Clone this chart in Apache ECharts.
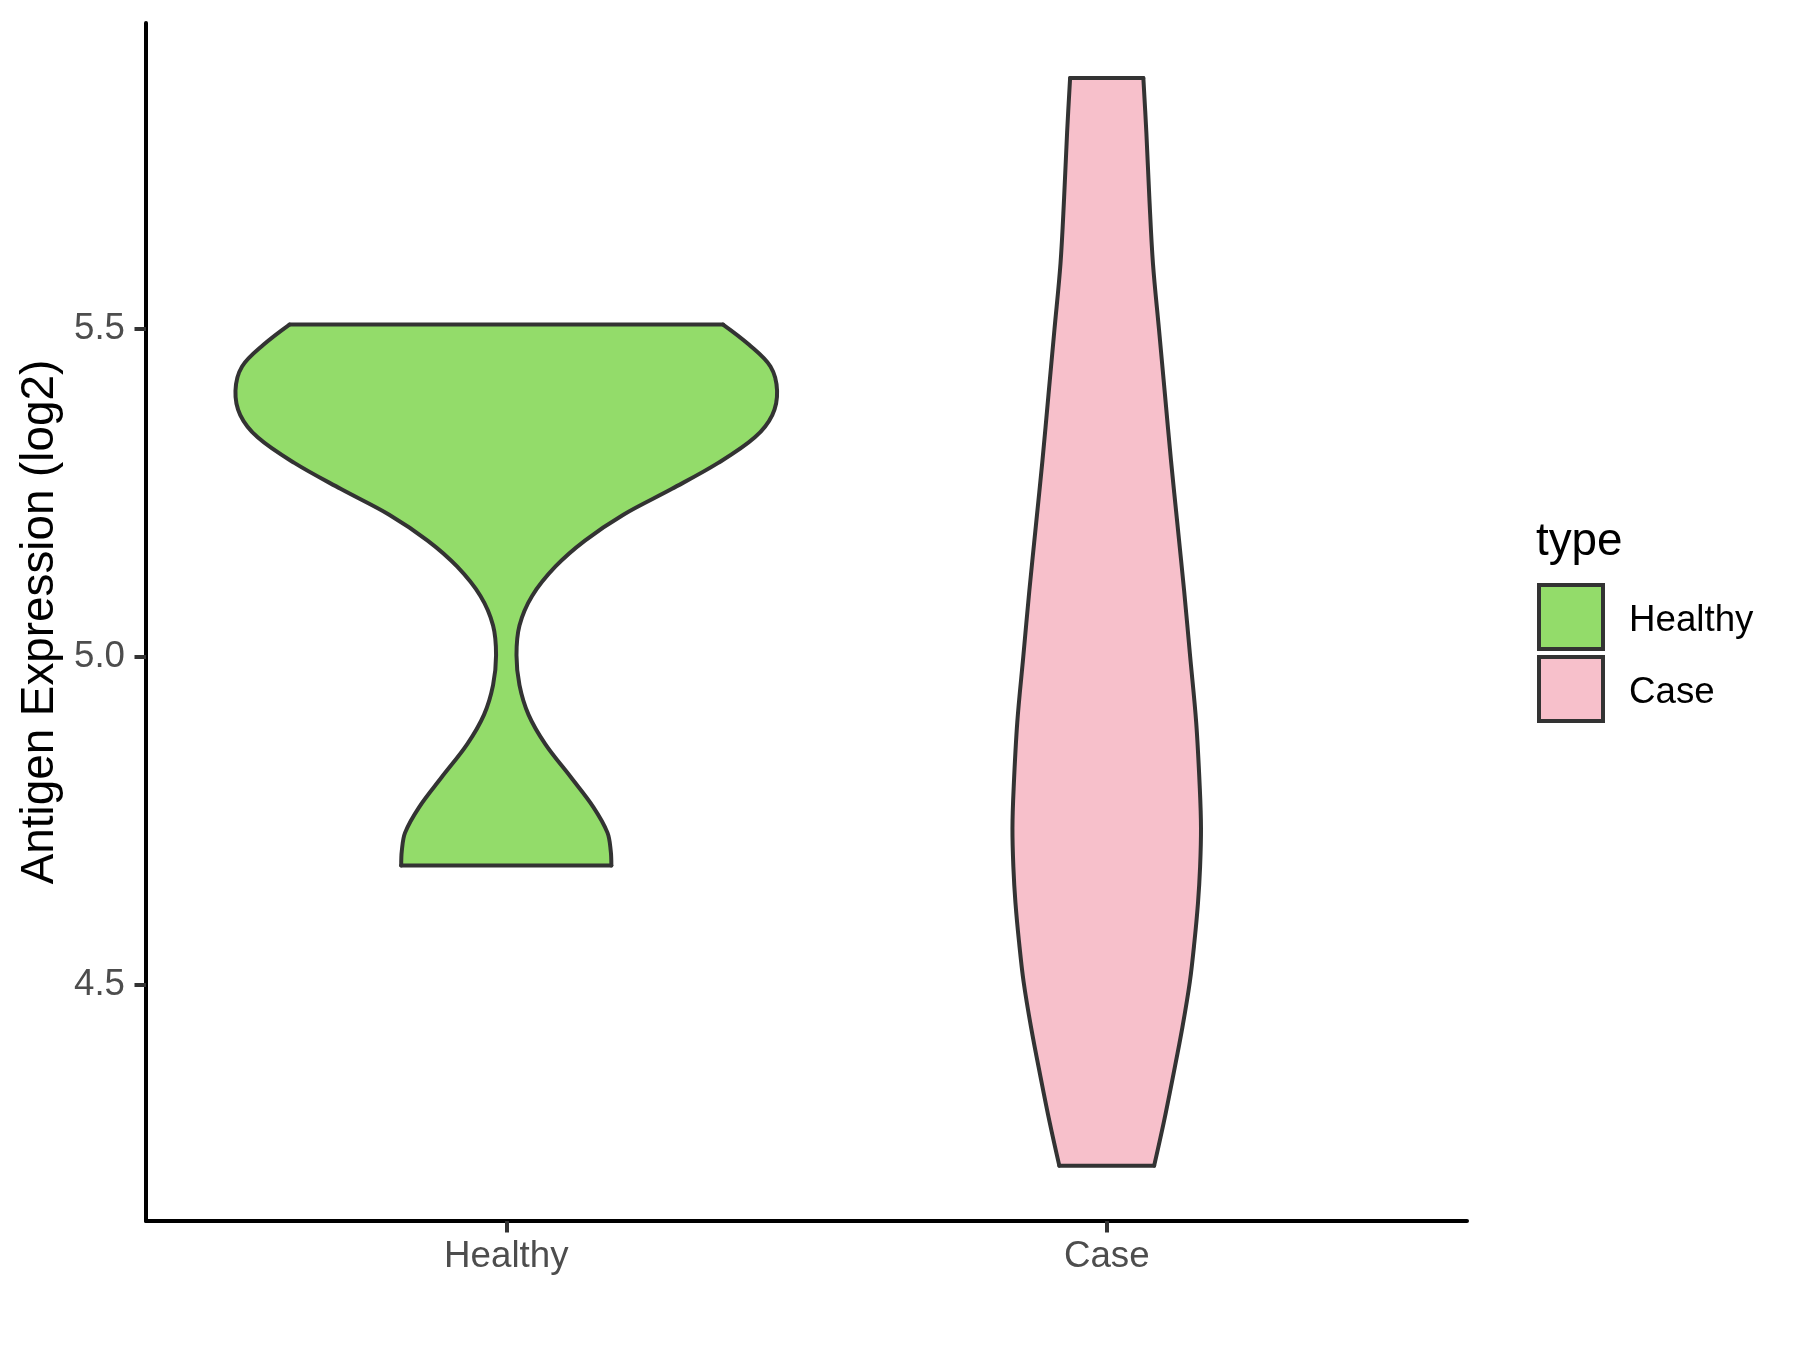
<!DOCTYPE html>
<html>
<head>
<meta charset="utf-8">
<script src="https://cdn.jsdelivr.net/npm/echarts@6/dist/echarts.min.js"></script>
<style>html,body{margin:0;padding:0;background:#fff;}#chart{width:1800px;height:1350px;}</style>
</head>
<body>
<div id="chart"></div>
<script>
const categories = ['Healthy', 'Case'];
const yTicks = [4.5, 5.0, 5.5];
const fillColors = ['#93DC6A', '#F7C0CB'];

// Healthy violin: expression values (log2, top to bottom) and half-widths of the density outline
const healthyValues = [5.507, 5.4765, 5.443, 5.406, 5.369, 5.335, 5.296, 5.2565, 5.217, 5.1775, 5.138, 5.093, 5.048, 5.0025, 4.957, 4.912, 4.867, 4.816, 4.771, 4.732, 4.704, 4.682];
const healthyHalfWidths = [0.361, 0.404, 0.440, 0.451, 0.443, 0.414, 0.353, 0.276, 0.195, 0.131, 0.082, 0.043, 0.022, 0.017, 0.022, 0.037, 0.065, 0.108, 0.145, 0.1685, 0.174, 0.175];

// Case violin
const caseValues = [5.883, 5.80, 5.70, 5.60, 5.50, 5.40, 5.30, 5.20, 5.10, 5.00, 4.90, 4.80, 4.739, 4.68, 4.625, 4.565, 4.505, 4.435, 4.363, 4.29, 4.224];
const caseHalfWidths = [0.061, 0.066, 0.071, 0.077, 0.087, 0.097, 0.107, 0.118, 0.129, 0.139, 0.149, 0.155, 0.157, 0.1555, 0.152, 0.146, 0.1385, 0.126, 0.111, 0.095, 0.079];

const FONT = "'Liberation Sans', Arial, sans-serif";
const OUTLINE = '#333333';

function violinRenderer(pos, values, halfWidths, color) {
  return function (params, api) {
    const left = [], right = [];
    for (let i = 0; i < values.length; i++) {
      left.push(api.coord([pos - halfWidths[i], values[i]]));
      right.push(api.coord([pos + halfWidths[i], values[i]]));
    }
    const n = values.length;
    const outline = left.concat(right.slice().reverse());
    const lineStyle = { fill: null, stroke: OUTLINE, lineWidth: 4, lineJoin: 'round', lineCap: 'round' };
    return {
      type: 'group',
      children: [
        { type: 'polygon', shape: { points: outline, smooth: 0 }, style: { fill: color, stroke: null } },
        { type: 'polyline', shape: { points: left, smooth: 0.35 }, style: lineStyle },
        { type: 'polyline', shape: { points: right, smooth: 0.35 }, style: lineStyle },
        { type: 'polyline', shape: { points: [left[0], right[0]] }, style: lineStyle },
        { type: 'polyline', shape: { points: [left[n - 1], right[n - 1]] }, style: lineStyle }
      ]
    };
  };
}

const chart = echarts.init(document.getElementById('chart'), null, { renderer: 'canvas' });
chart.setOption({
  animation: false,
  backgroundColor: '#ffffff',
  textStyle: { fontFamily: FONT },
  grid: { left: 146, right: 333, top: 23, bottom: 129, containLabel: false },
  title: {
    text: 'type', left: 1536, top: 519, padding: 0,
    textStyle: { fontFamily: FONT, fontSize: 45.8, fontWeight: 'normal', color: '#000000' }
  },
  legend: {
    orient: 'vertical', left: 1537, top: 583, padding: 0,
    itemWidth: 64, itemHeight: 64, itemGap: 4,
    icon: 'rect',
    data: categories,
    itemStyle: { borderColor: OUTLINE, borderWidth: 4 },
    formatter: function (name) { return '{t|' + name + '}'; },
    textStyle: {
      fontFamily: FONT, fontSize: 36.7, color: '#000000', padding: [0, 0, 0, 21],
      rich: { t: { fontFamily: FONT, fontSize: 36.7, color: '#000000', padding: [8, 0, 0, 0] } }
    }
  },
  xAxis: {
    type: 'value', min: 0.4, max: 2.6,
    axisLine: { show: true, lineStyle: { color: '#000000', width: 4 } },
    axisTick: { show: true, customValues: [1, 2], length: 11.5, lineStyle: { color: OUTLINE, width: 4 } },
    axisLabel: {
      customValues: [1, 2], margin: 17,
      formatter: function (v) { return categories[Math.round(v) - 1]; },
      fontFamily: FONT, fontSize: 36.7, color: '#4D4D4D'
    },
    splitLine: { show: false }
  },
  yAxis: {
    type: 'value', min: 4.1396, max: 5.967,
    name: 'Antigen Expression (log2)', nameLocation: 'middle', nameGap: 82, nameRotate: 90,
    nameTextStyle: { fontFamily: FONT, fontSize: 45.8, color: '#000000' },
    axisLine: { show: true, lineStyle: { color: '#000000', width: 4 } },
    axisTick: { show: true, customValues: yTicks, length: 11.5, lineStyle: { color: OUTLINE, width: 4 } },
    axisLabel: {
      customValues: yTicks, margin: 21,
      formatter: function (v) { return v.toFixed(1); },
      fontFamily: FONT, fontSize: 36.7, color: '#4D4D4D'
    },
    splitLine: { show: false }
  },
  series: [
    {
      type: 'custom', name: categories[0],
      itemStyle: { color: fillColors[0], borderColor: OUTLINE, borderWidth: 4 },
      renderItem: violinRenderer(1, healthyValues, healthyHalfWidths, fillColors[0]),
      data: [[1, healthyValues[0]]]
    },
    {
      type: 'custom', name: categories[1],
      itemStyle: { color: fillColors[1], borderColor: OUTLINE, borderWidth: 4 },
      renderItem: violinRenderer(2, caseValues, caseHalfWidths, fillColors[1]),
      data: [[2, caseValues[0]]]
    }
  ]
});
</script>
</body>
</html>
